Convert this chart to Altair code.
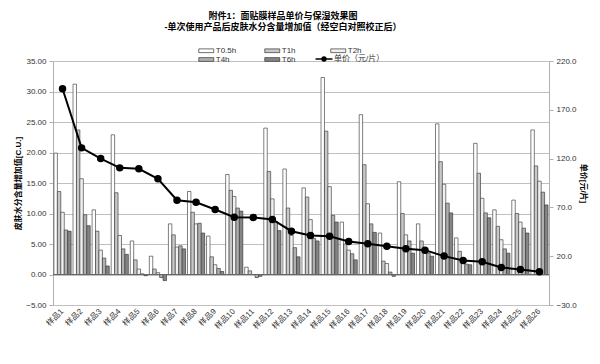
import altair as alt
import pandas as pd

samples = ["样品1", "样品2", "样品3", "样品4", "样品5", "样品6", "样品7", "样品8", "样品9",
           "样品10", "样品11", "样品12", "样品13", "样品14", "样品15", "样品16", "样品17",
           "样品18", "样品19", "样品20", "样品21", "样品22", "样品23", "样品24", "样品25", "样品26"]
series = ["T0.5h", "T1h", "T2h", "T4h", "T6h"]

t05 = [19.9, 31.2, 10.6, 22.9, 5.5, 3.0, 8.3, 13.6, 6.3, 16.4, 1.2, 24.0, 17.3,
       14.2, 32.3, 8.6, 26.2, 6.8, 15.2, 8.3, 24.7, 6.0, 21.5, 10.6, 12.2, 23.7]
t1 = [13.6, 23.7, 7.1, 13.4, 2.4, 0.9, 6.5, 10.2, 2.9, 13.8, 0.6, 16.9, 10.9,
      12.7, 23.5, 5.0, 18.0, 2.2, 10.0, 5.5, 18.5, 3.8, 16.6, 7.9, 10.0, 17.8]
t2 = [10.2, 15.7, 4.0, 6.4, 0.9, 0.3, 4.5, 8.3, 1.6, 12.8, 0.0, 12.4, 6.4,
      9.0, 14.4, 4.0, 11.6, 1.8, 6.5, 4.1, 14.8, 2.6, 12.5, 5.7, 8.6, 15.3]
t4 = [7.3, 9.8, 2.7, 4.2, 0.1, -0.5, 4.7, 8.4, 1.0, 10.9, -0.5, 8.7, 4.4,
      5.9, 9.7, 3.4, 8.3, 0.4, 5.5, 3.5, 11.7, 1.7, 10.1, 4.2, 7.6, 13.5]
t6 = [7.1, 8.0, 1.4, 3.3, -0.2, -1.0, 4.2, 6.8, 0.5, 10.4, -0.3, 7.2, 2.9,
      5.5, 8.6, 2.4, 6.9, -0.3, 3.5, 3.0, 10.1, 1.6, 9.3, 3.5, 6.8, 11.4]
price = [191.6, 131.0, 120.0, 110.5, 109.5, 99.3, 77.4, 75.3, 67.8, 60.0, 59.7, 57.6, 45.6,
         41.2, 40.5, 35.1, 32.7, 30.3, 27.6, 26.2, 20.1, 15.6, 14.3, 8.5, 6.4, 4.1]
price_label = "单价（元/片）"

left_ticks = [-5, 0, 5, 10, 15, 20, 25, 30, 35]
right_ticks = [-30, 20, 70, 120, 170, 220]

rows = []
for s_name, vals in zip(series, [t05, t1, t2, t4, t6]):
    for samp, v in zip(samples, vals):
        rows.append({"sample": samp, "series": s_name, "value": v})
bars_df = pd.DataFrame(rows)
price_df = pd.DataFrame({"sample": samples, "price": price, "label": price_label})
zero_df = pd.DataFrame({"y": [0]})

font = "Liberation Sans, Noto Sans CJK SC"
txt = "#333333"

x_enc = alt.X(
    "sample:N", sort=samples,
    scale=alt.Scale(paddingInner=0.1, paddingOuter=0.05),
    axis=alt.Axis(title=None, labelAngle=-45, labelAlign="right", labelBaseline="middle",
                  labelFontSize=8, labelPadding=5, ticks=False, domain=False,
                  labelColor=txt, grid=False),
)
xoff_enc = alt.XOffset("series:N", sort=series,
                       scale=alt.Scale(paddingInner=0, paddingOuter=0))

left_axis = alt.Axis(title="皮肤水分含量增加值[C.U.]", values=left_ticks, format=".2f",
                     grid=True, labelFontSize=8, labelColor=txt, tickSize=4,
                     labelPadding=3, titleFontSize=8, titleFontWeight="bold",
                     titleColor="#000000", titlePadding=3)
left_scale = alt.Scale(domain=[-5, 35], nice=False, zero=False)

shadow = alt.Chart(bars_df).mark_bar(fill="#9a9a9a", opacity=0.55, xOffset=1.5,
                                     strokeWidth=0).encode(
    x=x_enc,
    xOffset=xoff_enc,
    y=alt.Y("value:Q", scale=left_scale, axis=left_axis),
)

bars = alt.Chart(bars_df).mark_bar(stroke="#333333", strokeWidth=0.6).encode(
    x=x_enc,
    xOffset=xoff_enc,
    y=alt.Y("value:Q", scale=left_scale, axis=left_axis),
    fill=alt.Fill("series:N", sort=series,
                  scale=alt.Scale(domain=series,
                                  range=["#ffffff", "#c8c8c8", "#f0f0f0", "#b0b0b0", "#858585"]),
                  legend=alt.Legend(title=None, orient="none", legendX=148.75, legendY=-15,
                                    columns=3, direction="horizontal",
                                    symbolType="M-2,-0.5H2V0.5H-2Z",
                                    symbolSize=56, symbolStrokeColor="#333333",
                                    symbolStrokeWidth=0.7, labelFontSize=8, labelOffset=5,
                                    columnPadding=26, rowPadding=0, gridAlign="all",
                                    padding=0, labelColor=txt)),
)

zero = alt.Chart(zero_df).mark_rule(color="#666666", strokeWidth=1).encode(
    y=alt.Y("y:Q", scale=left_scale, axis=left_axis)
)

line = alt.Chart(price_df).mark_line(
    color="black", strokeWidth=2,
    point=alt.OverlayMarkDef(filled=True, color="black", size=30),
).encode(
    x=alt.X("sample:N", sort=samples),
    y=alt.Y("price:Q", scale=alt.Scale(domain=[-30, 220], nice=False, zero=False),
            axis=alt.Axis(orient="right", title="单价[元/片]", values=right_ticks, format=".1f",
                          grid=False, labelFontSize=8, labelColor=txt, tickSize=4,
                          labelPadding=3, titleFontSize=8, titleFontWeight="bold",
                          titleColor="#000000", titlePadding=2)),
    stroke=alt.Stroke("label:N", scale=alt.Scale(domain=[price_label], range=["black"]),
                      legend=alt.Legend(title=None, orient="none", legendX=266, legendY=-7,
                                        symbolType="M-2,0H2M-0.45,0A0.45,0.45,0,1,1,0.45,0A0.45,0.45,0,1,1,-0.45,0",
                                        symbolSize=72, symbolStrokeWidth=1.5,
                                        symbolFillColor="black", labelFontSize=8,
                                        labelOffset=5, padding=0, labelColor=txt)),
)

chart = alt.layer(alt.layer(shadow, bars, zero), line).resolve_scale(y="independent").properties(
    width=496, height=244,
    title=alt.TitleParams(
        text="附件1：面贴膜样品单价与保湿效果图",
        subtitle="-单次使用产品后皮肤水分含量增加值（经空白对照校正后）",
        fontSize=9, subtitleFontSize=9, fontWeight="bold", subtitleFontWeight="bold",
        color="#000000", subtitleColor="#000000", anchor="middle", frame="group",
        dx=-18, offset=14, subtitlePadding=2, font=font, subtitleFont=font,
    ),
    autosize=alt.AutoSizeParams(type="none"),
    padding={"left": 45, "top": 53, "right": 43, "bottom": 51},
).configure(font=font).configure_view(stroke=None).configure_axis(
    gridColor="#c0c0c0", domainColor="#b0b0b0", tickColor="#b0b0b0"
)

chart.save("out.html", embed_options={"renderer": "svg", "actions": False})
